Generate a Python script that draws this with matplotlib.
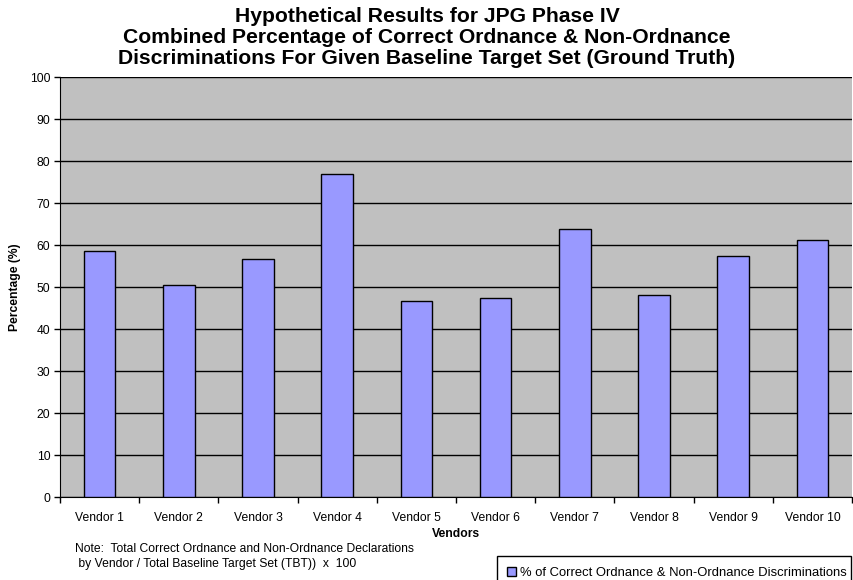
import matplotlib
matplotlib.use("Agg")
import matplotlib.pyplot as plt
from matplotlib.patches import Rectangle
import numpy as np

plt.rcParams['font.family'] = ['Liberation Sans', 'DejaVu Sans']

vendors = ["Vendor 1", "Vendor 2", "Vendor 3", "Vendor 4", "Vendor 5",
           "Vendor 6", "Vendor 7", "Vendor 8", "Vendor 9", "Vendor 10"]
values = [58.5, 50.5, 56.7, 77.0, 46.7, 47.4, 63.8, 48.1, 57.4, 61.2]
series_name = "% of Correct Ordnance & Non-Ordnance Discriminations"
title = ("Hypothetical Results for JPG Phase IV\n"
         "Combined Percentage of Correct Ordnance & Non-Ordnance\n"
         "Discriminations For Given Baseline Target Set (Ground Truth)")
note = ("Note:  Total Correct Ordnance and Non-Ordnance Declarations\n"
        " by Vendor / Total Baseline Target Set (TBT))  x  100")

W, H = 854, 580
fig = plt.figure(figsize=(W / 100, H / 100), dpi=100)
x0, x1, y0, y1 = 60, 852, 77, 497
ax = fig.add_axes([x0 / W, 1 - y1 / H, (x1 - x0) / W, (y1 - y0) / H])
ax.set_facecolor('#C0C0C0')

x = np.arange(len(vendors))
ax.set_axisbelow(True)
ax.yaxis.grid(True, color='black', linewidth=1.0)
bars = ax.bar(x, values, width=0.4, color='#9999FF', edgecolor='black',
              linewidth=1.0, label=series_name, zorder=3)

ax.set_xlim(-0.5, len(vendors) - 0.5)
ax.set_ylim(0, 100)
ax.set_yticks(np.arange(0, 101, 10))
ax.set_xticks(x)
ax.set_xticklabels(vendors, fontsize=8.7)
ax.set_xticks(np.arange(-0.5, len(vendors) - 0.4, 1), minor=True)
ax.tick_params(axis='x', which='major', length=0, pad=11)
ax.tick_params(axis='x', which='minor', length=4, direction='out', width=1)
ax.tick_params(axis='y', length=4, direction='out', width=1, labelsize=8.7, pad=3)

for s in ['top', 'right']:
    ax.spines[s].set_visible(False)
ax.spines['left'].set_color('black')
ax.spines['bottom'].set_color('black')

ax.set_ylabel("Percentage (%)", fontsize=8.7, fontweight='bold', labelpad=6)
ax.set_xlabel("Vendors", fontsize=8.7, fontweight='bold', labelpad=3)

fig.text(0.5, 1 - 7 / H, title, ha='center', va='top', fontsize=15.2,
         fontweight='bold', linespacing=1.12)

fig.text(75 / W, 1 - 543 / H, note, ha='left', va='top', fontsize=8.7,
         linespacing=1.3)

# legend frame (clipped by figure bottom, as in the reference)
fig.patches.append(Rectangle((497 / W, -0.05), (851.5 - 497) / W,
                             0.05 + (H - 556) / H, transform=fig.transFigure,
                             facecolor='white', edgecolor='black',
                             linewidth=1.0, zorder=1))
leg = fig.legend(handles=[bars], labels=[series_name], loc='center left',
                 bbox_to_anchor=(507 / W, 1 - 573 / H), fontsize=9.4,
                 frameon=False, handlelength=0.7, handleheight=0.7,
                 handletextpad=0.3, borderpad=0, borderaxespad=0)
leg.set_zorder(2)

fig.savefig("out.png", dpi=100)
